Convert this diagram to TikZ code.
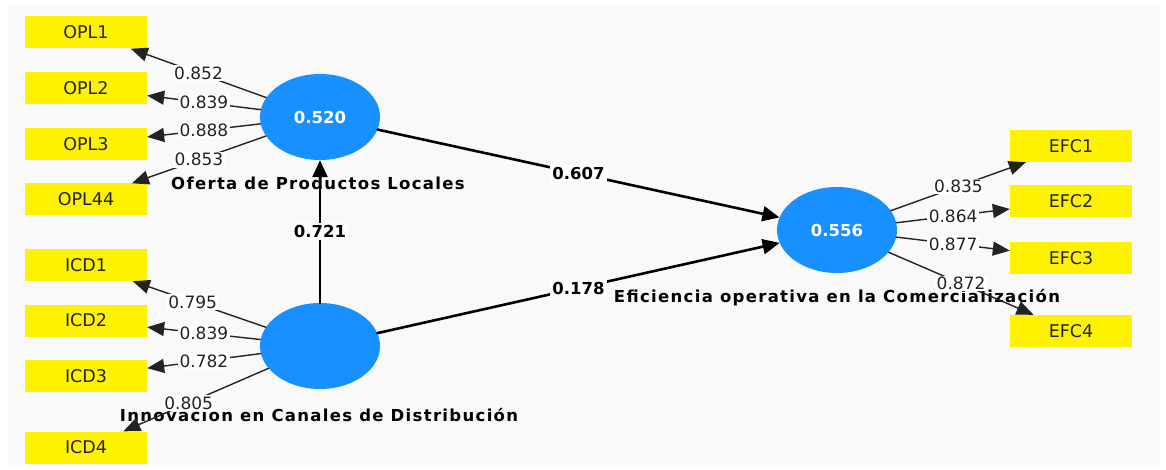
\documentclass[tikz,border=0pt]{standalone}
\usepackage{fontspec}
\setmainfont{DejaVu Sans}
\newfontfamily\namefont[LetterSpace=8]{DejaVu Sans}
\usetikzlibrary{shapes.geometric,arrows.meta,positioning}

\definecolor{latblue}{RGB}{24,144,255}
\definecolor{panel}{RGB}{249,249,249}
\definecolor{ink}{RGB}{35,35,35}

\begin{document}
\begin{tikzpicture}[x=1pt, y=-1pt, line cap=round,
	indicator/.style={fill=yellow, minimum width=122pt, minimum height=32pt, inner sep=0pt, text=ink, font=\fontsize{17.5}{20}\selectfont},
	latent/.style={ellipse, fill=latblue, minimum width=120pt, minimum height=86pt, inner sep=0pt, text=white, font=\bfseries\fontsize{16.5}{19}\selectfont},
	latname/.style={anchor=base, inner sep=0pt, font=\namefont\bfseries\fontsize{16.5}{19}\selectfont},
	load/.style={draw=ink, line width=1.4pt, -{Triangle[length=17pt,width=14pt]}},
	relation/.style={draw=black, line width=2.6pt, -{Triangle[length=17pt,width=15pt]}},
	coef/.style={fill=white, inner sep=1.5pt, text=ink, font=\fontsize{17}{19}\selectfont},
	pcoef/.style={fill=white, inner sep=2pt, font=\bfseries\fontsize{16.5}{19}\selectfont}]
	
		% Background
		\useasboundingbox (0,0) rectangle (1166,470);
		\fill[white] (0,0) rectangle (1166,470);
		\fill[panel] (8,5) rectangle (1160,465);
		
		% Latent variables
		\node[latent] (opl) at (320,117) {0.520};
		\node[latent] (icd) at (320,346) {};
		\node[latent] (efc) at (837,230) {0.556};
		
		% Indicators
		\node[indicator] (opl1) at (86,32.5) {OPL1};
		\node[indicator] (opl2) at (86,88) {OPL2};
		\node[indicator] (opl3) at (86,144) {OPL3};
		\node[indicator] (opl44) at (86,199.5) {OPL44};
		%
		\node[indicator] (icd1) at (86,265) {ICD1};
		\node[indicator] (icd2) at (86,320.5) {ICD2};
		\node[indicator] (icd3) at (86,376) {ICD3};
		\node[indicator] (icd4) at (86,447.5) {ICD4};
		%
		\node[indicator] (efc1) at (1071,146) {EFC1};
		\node[indicator] (efc2) at (1071,201.5) {EFC2};
		\node[indicator] (efc3) at (1071,258) {EFC3};
		\node[indicator] (efc4) at (1071,331) {EFC4};
		
		% Names
		\node[latname] (oplname) at (318,190) {Oferta de Productos Locales};
		\node[latname] (icdname) at (319,421) {Innovacion en Canales de Distribución};
		\node[latname] (efcname) at (837,302) {Eficiencia operativa en la Comercialización};
		
		% Inner model
		\draw[relation] (icd) -- (opl) node[pcoef, midway] {0.721};
		\draw[relation] (opl) -- (efc) node[pcoef, midway] {0.607};
		\draw[relation] (icd) -- (efc) node[pcoef, midway] {0.178};
		
		% Outer loadings
		\draw[load] (opl) -- (opl1) node[coef, midway] {0.852};
		\draw[load] (opl) -- (opl2) node[coef, midway] {0.839};
		\draw[load] (opl) -- (opl3) node[coef, midway] {0.888};
		\draw[load] (opl) -- (opl44) node[coef, midway] {0.853};
		%
		\draw[load] (icd) -- (icd1) node[coef, pos=0.55] {0.795};
		\draw[load] (icd) -- (icd2) node[coef, midway] {0.839};
		\draw[load] (icd) -- (icd3) node[coef, midway] {0.782};
		\draw[load] (icd) -- (icd4) node[coef, pos=0.55] {0.805};
		%
		\draw[load] (efc) -- (efc1) node[coef, midway] {0.835};
		\draw[load] (efc) -- (efc2) node[coef, midway] {0.864};
		\draw[load] (efc) -- (efc3) node[coef, midway] {0.877};
		\draw[load] (efc) -- (efc4) node[coef, midway] {0.872};
	\end{tikzpicture}
\end{document}
